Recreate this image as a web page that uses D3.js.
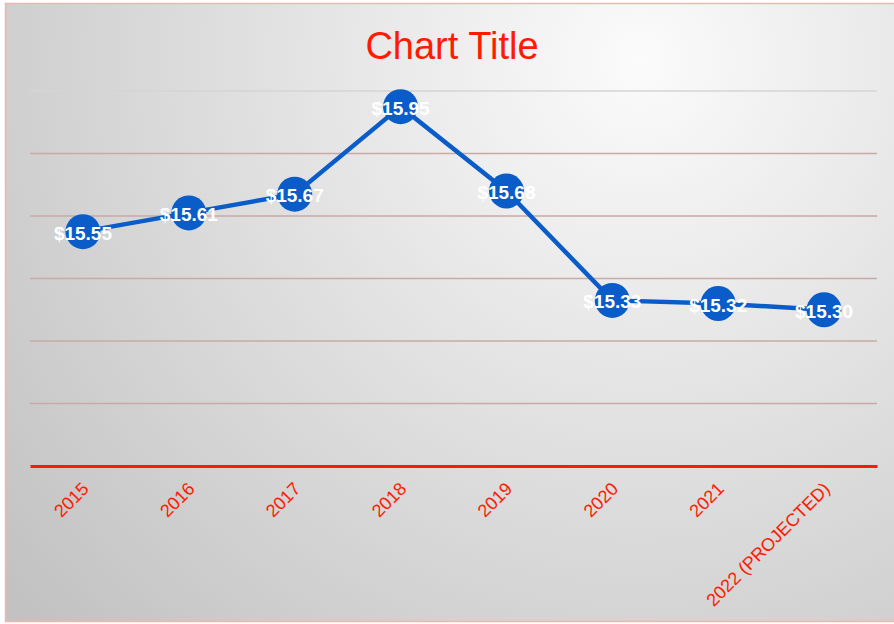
<!DOCTYPE html>
<html lang="en">
<head>
<meta charset="UTF-8">
<title>Chart Title</title>
<style type="text/css">
	body { margin: 0; background: #fff; }
	.axis text { font-family: "Liberation Sans", Arial, sans-serif; font-size: 18px; fill: #ff1a00 }
	.label { font-family: "Liberation Sans", Arial, sans-serif; font-size: 19px; font-weight: bold; fill: #fff }
</style>
<script src="https://cdn.jsdelivr.net/npm/d3@7"></script>
</head>
<body>
<script type="text/javascript">

var years = ['2015', '2016', '2017', '2018', '2019', '2020', '2021', '2022 (PROJECTED)'];
var prices = [15.55, 15.61, 15.67, 15.95, 15.68, 15.33, 15.32, 15.30];
var yTicks = [14.8, 15.0, 15.2, 15.4, 15.6, 15.8, 16.0];

var W = 894, H = 624;
var margin = {top: 91, right: 17, bottom: 158, left: 30};
var width = 877 - margin.left;
var height = 466 - margin.top;

var svg = d3.select('body').append('svg')
	.attr('width', W)
	.attr('height', H);

var defs = svg.append('defs');
var grad = defs.append('radialGradient')
	.attr('id', 'bg')
	.attr('gradientUnits', 'userSpaceOnUse')
	.attr('cx', 640).attr('cy', 60).attr('r', 820);
grad.append('stop').attr('offset', '0%').attr('stop-color', '#fbfbfb');
grad.append('stop').attr('offset', '100%').attr('stop-color', '#c2c2c2');

svg.append('rect')
	.attr('x', 5.5).attr('y', 3.5)
	.attr('width', W).attr('height', 618)
	.attr('fill', 'url(#bg)')
	.attr('stroke', '#f5b3ae')
	.attr('stroke-width', 1.5);

svg.append('text')
	.attr('x', 452).attr('y', 59)
	.attr('text-anchor', 'middle')
	.style('font-family', '"Liberation Sans", Arial, sans-serif')
	.style('font-size', '38px')
	.style('fill', '#ff1a00')
	.text('Chart Title');

var g = svg.append('g')
	.attr('transform', 'translate(' + margin.left + ',' + margin.top + ')');

var x = d3.scaleBand().domain(years).range([0, width]);
var y = d3.scaleLinear().domain([14.8, 16.0]).range([height, 0]);

// gridlines
g.selectAll('.grid')
	.data(yTicks.slice(1))
	.enter().append('line')
	.attr('class', 'grid')
	.attr('x1', 0).attr('x2', width)
	.attr('y1', d => y(d)).attr('y2', d => y(d))
	.attr('stroke', d => d === 16.0 ? '#d4d4d4' : '#c9a8a6')
	.attr('stroke-width', 1.5);

// x axis
var xAxis = g.append('g')
	.attr('class', 'axis')
	.attr('transform', 'translate(0,' + height + ')')
	.call(d3.axisBottom(x).tickSize(0).tickPadding(0));
xAxis.select('.domain').attr('stroke', '#ff1a00').attr('stroke-width', 3);
xAxis.selectAll('text')
	.attr('text-anchor', 'end')
	.attr('dy', null)
	.attr('transform', 'translate(7,24) rotate(-45)');

var line = d3.line()
	.x((d, i) => x(years[i]) + x.bandwidth() / 2)
	.y(d => y(d));

g.append('path')
	.datum(prices)
	.attr('d', line)
	.attr('fill', 'none')
	.attr('stroke', '#0a5cc8')
	.attr('stroke-width', 4.5);

g.selectAll('.dot')
	.data(prices)
	.enter().append('circle')
	.attr('class', 'dot')
	.attr('cx', (d, i) => x(years[i]) + x.bandwidth() / 2)
	.attr('cy', d => y(d))
	.attr('r', 17.5)
	.attr('fill', '#0a5cc8');

g.selectAll('.label')
	.data(prices)
	.enter().append('text')
	.attr('class', 'label')
	.attr('x', (d, i) => x(years[i]) + x.bandwidth() / 2)
	.attr('y', d => y(d) + 8)
	.attr('text-anchor', 'middle')
	.text(d => '$' + d.toFixed(2));

</script>
</body>
</html>
